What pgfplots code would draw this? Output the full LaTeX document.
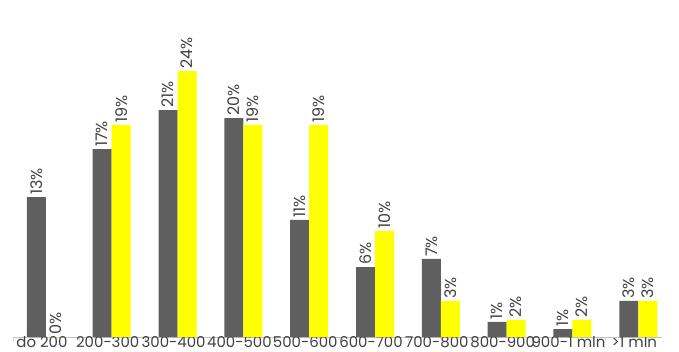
\documentclass[border=0pt]{standalone}
\usepackage{pgfplots}
\pgfplotsset{compat=1.18}
\usepackage{fontspec}
\setmainfont{Poppins}
\definecolor{barg}{HTML}{5F5F5F}
\definecolor{bary}{HTML}{FFFF00}
\definecolor{txt}{HTML}{404040}
\begin{document}
\begin{tikzpicture}
\begin{axis}[
  scale only axis, width=649bp, height=337bp,
  xmin=-0.5, xmax=9.36, ymin=0, ymax=30.5,
  ybar=0pt, bar width=19bp,
  axis x line*=bottom, axis y line=none,
  axis line style={draw=black!25, -},
  xtick={0,...,9},
  xticklabels={do 200,200-300,300-400,400-500,500-600,600-700,700-800,800-900,900-1 mln,>1 mln},
  major tick length=0pt,
  minor xtick={-0.5,0.5,1.5,2.5,3.5,4.5,5.5,6.5,7.5,8.5},
  minor tick length=4bp, minor tick style={draw=black!15},
  tick align=outside,
  xticklabel style={font=\fontsize{15}{15}\selectfont, text=txt, xshift=-4bp, inner sep=0.5bp, yshift=1bp},
  ytick=\empty,
  nodes near coords, point meta=explicit symbolic,
  nodes near coords style={rotate=90, anchor=west, font=\fontsize{16}{16}\selectfont, text=txt, inner sep=2bp},
  clip=false,
]
\addplot[fill=barg, draw=none] coordinates {
  (0,12.67)[13\%] (1,17.01)[17\%] (2,20.54)[21\%] (3,19.82)[20\%] (4,10.59)[11\%]
  (5,6.33)[6\%] (6,7.06)[7\%] (7,1.36)[1\%] (8,0.72)[1\%] (9,3.26)[3\%]
};
\addplot[fill=bary, draw=none] coordinates {
  (0,0)[0\%] (1,19.19)[19\%] (2,24.07)[24\%] (3,19.19)[19\%] (4,19.19)[19\%]
  (5,9.59)[10\%] (6,3.26)[3\%] (7,1.54)[2\%] (8,1.54)[2\%] (9,3.26)[3\%]
};
\end{axis}
\pgfresetboundingbox
\path (current axis.south west) ++(-13bp,-15bp) rectangle ++(679bp,352bp);
\end{tikzpicture}
\end{document}
